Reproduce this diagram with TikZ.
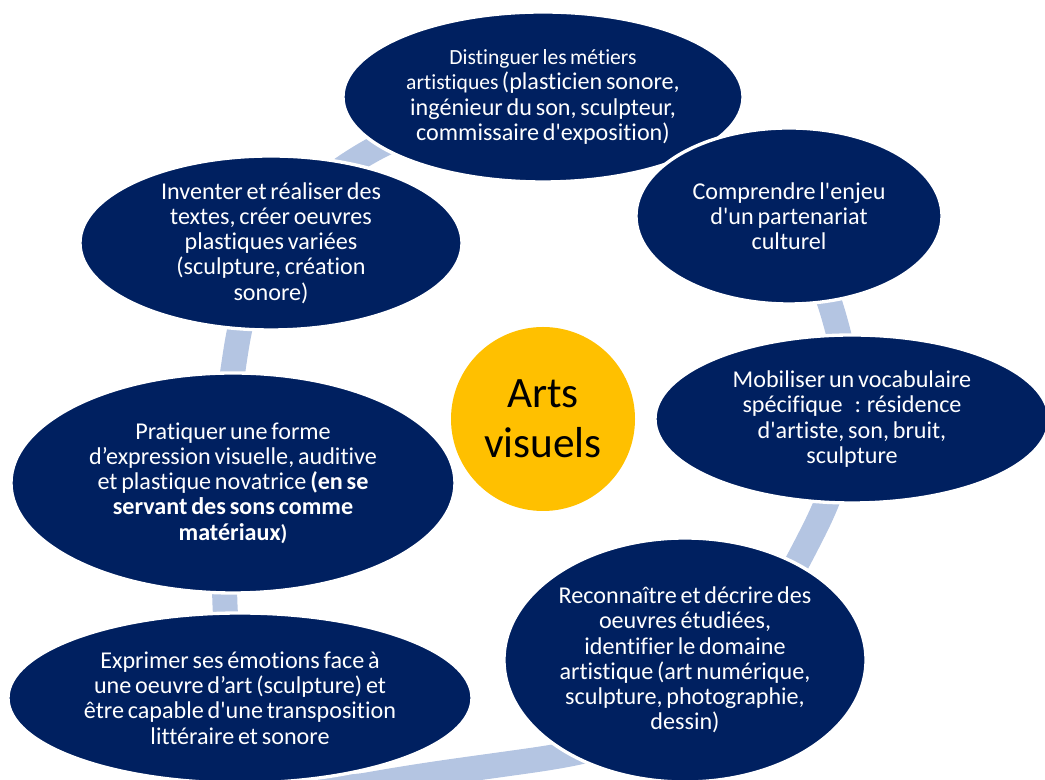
\documentclass[tikz,border=0pt]{standalone}
\usepackage{fontspec}
\newfontfamily\smartfont[Ligatures=NoCommon,WordSpace=0.7]{Carlito}
\usetikzlibrary{shapes.geometric}
\definecolor{navyFill}{HTML}{002060}
\definecolor{ringBlue}{HTML}{B4C5E2}
\definecolor{discGold}{HTML}{FFC000}
\newcommand{\smallText}{\fontsize{16.2}{18.75}\selectfont}

\begin{document}
\begin{tikzpicture}
[x=0.75pt,y=0.75pt,
  ringBand/.style={line width=18.75pt,color=ringBlue},%
  skillEllipse/.style={shape=ellipse,fill=navyFill,draw=white,line width=2.5pt,
    inner sep=0pt,text=white,align=center,
    font=\smartfont\fontsize{18.1}{18.9}\selectfont},%
  centreDisc/.style={shape=circle,fill=discGold,inner sep=0pt,minimum size=138pt,
    align=center,font=\smartfont\fontsize{32.5}{37.5}\selectfont}]
\useasboundingbox (0,0) rectangle (1045,780);
\clip (0,0) rectangle (1045,780);
%% ring behind the ellipses
\draw[ringBand] (530,662) to[out=0,in=155] (690,628) to[out=-25,in=106] (834,463)
  to[out=-74,in=85] (845,360) to[out=-95,in=63] (812,246)
  to[out=-117,in=40] (690,82) to[out=-140,in=8] (520,18)
  to[out=188,in=10] (367,-5) to[out=190,in=-88] (225,175)
  to[out=92,in=261] (236,430) to[out=81,in=211] (362,624)
  to[out=31,in=180] (530,662);
%% ellipses
\foreach \nodename/\x/\y/\rx/\ry/\nodetext in {
  distinguer/543/683/200/85/{{\smallText Distinguer les métiers}\\{\smallText artistiques }(plasticien sonore,\\ingénieur du son, sculpteur,\\commissaire d'exposition)},
  comprendre/789/564/153/88/{Comprendre l'enjeu\\d'un partenariat\\culturel},
  mobiliser/852/361/197/84/{Mobiliser un vocabulaire\\spécifique\enspace: résidence\\d'artiste, son, bruit,\\sculpture},
  reconnaitre/685/120/181/122/{Reconnaître et décrire des\\oeuvres étudiées,\\identifier le domaine\\artistique (art numérique,\\sculpture, photographie,\\dessin)},
  exprimer/240/82/232/85/{Exprimer ses émotions face à\\une oeuvre d’art (sculpture) et\\être capable d'une transposition\\littéraire et sonore},
  pratiquer/233/297/222/110/{Pratiquer une forme\\d’expression visuelle, auditive\\et plastique novatrice \textbf{(en se}\\\textbf{servant des sons comme}\\\textbf{matériaux}{\smallText\textbf{)}}},
  inventer/271/537/191/87/{Inventer et réaliser des\\textes, créer oeuvres\\plastiques variées\\(sculpture, création\\sonore)}}
{
  \node (\nodename) at (\x,\y) [skillEllipse,minimum width=\rx*1.5pt,minimum height=\ry*1.5pt] {\nodetext};
}
%% centre
\node (arts) at (543,361) [centreDisc] {Arts\\visuels};
\end{tikzpicture}
\end{document}
